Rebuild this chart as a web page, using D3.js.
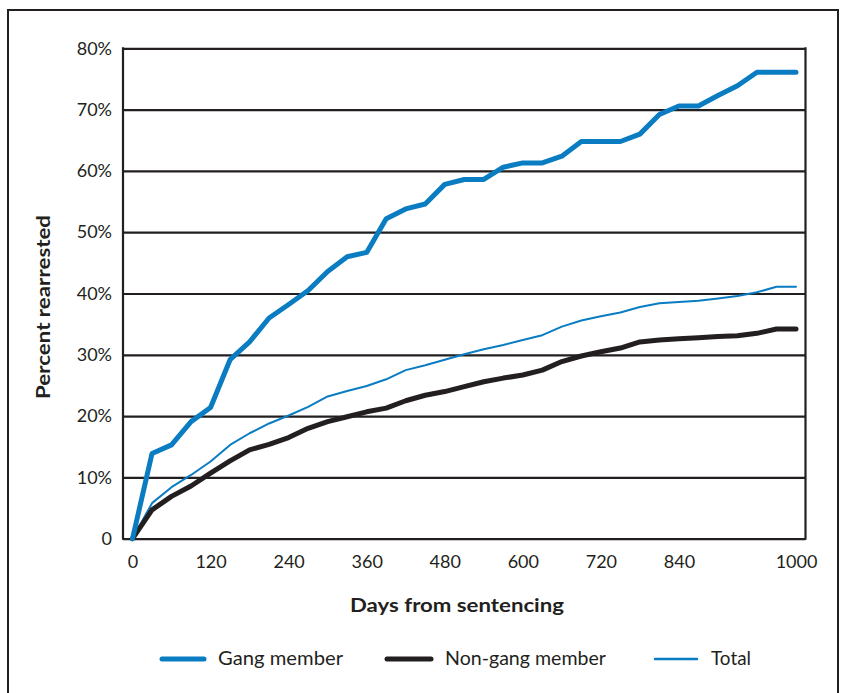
<!DOCTYPE html>
<html>
<head>
<meta charset="utf-8">
<script src="https://cdn.jsdelivr.net/npm/d3@7"></script>
<style>
  html, body { margin: 0; padding: 0; background: #fff; }
  svg { display: block; }
  text { font-family: Lato, "Open Sans", sans-serif; fill: #231f20; }
</style>
</head>
<body>
<svg id="chart" width="846" height="693"></svg>
<script>
// ---- data ----
const days = [0, 30, 60, 90, 120, 150, 180, 210, 240, 270, 300, 330, 360, 390, 420, 450, 480, 510,
  540, 570, 600, 630, 660, 690, 720, 750, 780, 810, 840, 870, 900, 930, 960, 990, 1000];
const gangMember = [0, 13.9, 15.3, 19.1, 21.4, 29.2, 32.1, 36.0, 38.2, 40.5, 43.6, 46.0, 46.7, 52.2,
  53.8, 54.6, 57.8, 58.6, 58.6, 60.6, 61.3, 61.3, 62.4, 64.8, 64.8, 64.8, 66.0, 69.2, 70.6, 70.6,
  72.3, 73.9, 76.1, 76.1, 76.1];
const nonGangMember = [0, 4.7, 6.9, 8.6, 10.7, 12.7, 14.5, 15.4, 16.5, 18.0, 19.1, 19.9, 20.7, 21.3,
  22.5, 23.4, 24.0, 24.8, 25.6, 26.2, 26.7, 27.5, 28.9, 29.8, 30.5, 31.1, 32.1, 32.4, 32.6, 32.8,
  33.0, 33.1, 33.5, 34.2, 34.2];
const total = [0, 5.8, 8.4, 10.4, 12.6, 15.3, 17.2, 18.8, 20.1, 21.5, 23.2, 24.1, 24.9, 26.0, 27.5,
  28.3, 29.2, 30.1, 30.9, 31.6, 32.4, 33.2, 34.6, 35.6, 36.3, 36.9, 37.8, 38.4, 38.6, 38.8, 39.2,
  39.6, 40.2, 41.1, 41.1];
const xTickValues = [0, 120, 240, 360, 480, 600, 720, 840, 1000];
const yTickValues = [0, 10, 20, 30, 40, 50, 60, 70, 80];
const seriesNames = ["Gang member", "Non-gang member", "Total"];
const xTitle = "Days from sentencing";
const yTitle = "Percent rearrested";

// ---- layout ----
const svg = d3.select("#chart");
const ink = "#231f20";
const blue = "#0a7cc2";
const plot = { left: 123, right: 805.5, top: 48.3, bottom: 538.7 };

// outer frame
svg.append("rect").attr("x", 8).attr("y", 10).attr("width", 830).attr("height", 700)
  .attr("fill", "none").attr("stroke", ink).attr("stroke-width", 2);

const x = d3.scalePoint().domain(days).range([132.5, 796]);
const y = d3.scaleLinear().domain([0, 80]).range([plot.bottom, plot.top]);

// gridlines + y labels
const yAxis = d3.axisLeft(y).tickValues(yTickValues)
  .tickSize(-(plot.right - plot.left)).tickPadding(11)
  .tickFormat(d => d === 0 ? "0" : d + "%");
const gy = svg.append("g").attr("transform", `translate(${plot.left},0)`).call(yAxis);
gy.select(".domain").remove();
gy.selectAll(".tick line").attr("stroke", ink).attr("stroke-width", 2.2);
gy.selectAll(".tick text").attr("font-size", 18).attr("fill", ink).style("font-family", "Lato, sans-serif");

// left & right frame of plot
svg.append("line").attr("x1", plot.left).attr("x2", plot.left).attr("y1", plot.top - 1).attr("y2", plot.bottom + 1)
  .attr("stroke", ink).attr("stroke-width", 2.2);
svg.append("line").attr("x1", plot.right).attr("x2", plot.right).attr("y1", plot.top - 1).attr("y2", plot.bottom + 1)
  .attr("stroke", ink).attr("stroke-width", 2.2);

// x axis labels
const xAxis = d3.axisBottom(x).tickValues(xTickValues).tickSize(0).tickPadding(17);
const gx = svg.append("g").attr("transform", `translate(0,${plot.bottom})`).call(xAxis);
gx.select(".domain").remove();
gx.selectAll(".tick text").attr("font-size", 18).attr("fill", ink).style("font-family", "Lato, sans-serif");

// lines
const mk = vals => d3.line().x((d, i) => x(days[i])).y(d => y(d))(vals);
svg.append("path").attr("d", mk(total)).attr("fill", "none").attr("stroke", blue)
  .attr("stroke-width", 2).attr("stroke-linejoin", "round").attr("stroke-linecap", "round");
svg.append("path").attr("d", mk(nonGangMember)).attr("fill", "none").attr("stroke", ink)
  .attr("stroke-width", 5).attr("stroke-linejoin", "round").attr("stroke-linecap", "round");
svg.append("path").attr("d", mk(gangMember)).attr("fill", "none").attr("stroke", blue)
  .attr("stroke-width", 5).attr("stroke-linejoin", "round").attr("stroke-linecap", "round");

// titles
svg.append("text").attr("x", 457).attr("y", 612).attr("text-anchor", "middle")
  .attr("font-size", 19).attr("font-weight", "bold")
  .attr("textLength", 214).attr("lengthAdjust", "spacingAndGlyphs").text(xTitle);
svg.append("text").attr("transform", "translate(50,307) rotate(-90)").attr("text-anchor", "middle")
  .attr("font-size", 19).attr("font-weight", "bold")
  .attr("textLength", 184).attr("lengthAdjust", "spacingAndGlyphs").text(yTitle);

// legend
const legend = [
  { name: seriesNames[0], color: blue, w: 5, x1: 162, x2: 204, tx: 218, tl: 125 },
  { name: seriesNames[1], color: ink, w: 5, x1: 387, x2: 431, tx: 445, tl: 161 },
  { name: seriesNames[2], color: blue, w: 2.5, x1: 655, x2: 697, tx: 711, tl: 40 }
];
const lg = svg.append("g");
legend.forEach(l => {
  lg.append("line").attr("x1", l.x1).attr("x2", l.x2).attr("y1", 659).attr("y2", 659)
    .attr("stroke", l.color).attr("stroke-width", l.w).attr("stroke-linecap", "round");
  lg.append("text").attr("x", l.tx).attr("y", 665).attr("font-size", 19)
    .attr("textLength", l.tl).attr("lengthAdjust", "spacingAndGlyphs").text(l.name);
});
</script>
</body>
</html>
